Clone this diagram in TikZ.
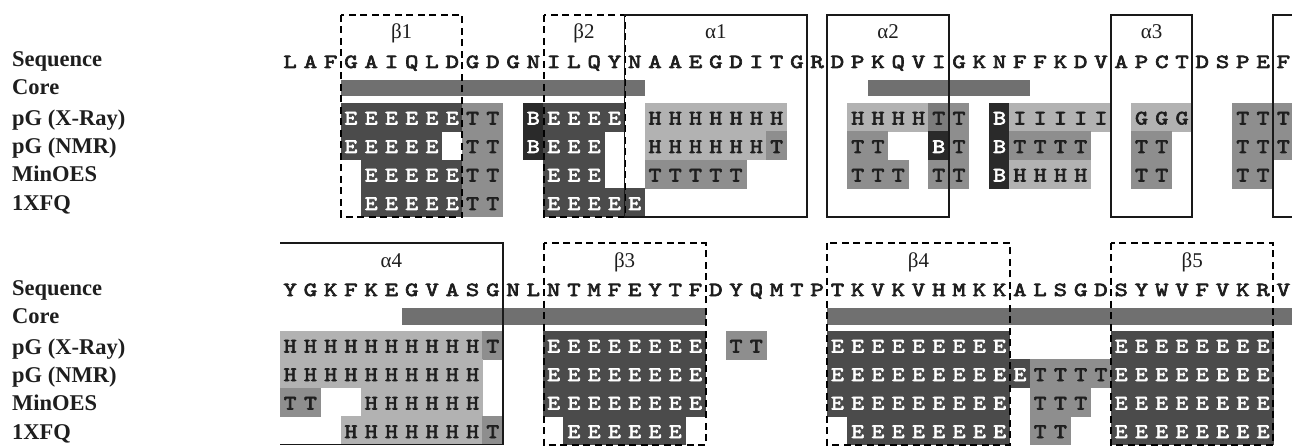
\documentclass[tikz,border=0pt]{standalone}
\usepackage{fontspec}
\newfontfamily\lblfont{Liberation Serif}
\newfontfamily\seqfont{lmmono10-regular.otf}[FakeBold=3.2,FakeStretch=1.28]
\newfontfamily\cellfont{lmmono10-regular.otf}[FakeBold=3,FakeStretch=1.2]
\definecolor{cE}{HTML}{4B4B4B}
\definecolor{cH}{HTML}{B2B2B2}
\definecolor{cT}{HTML}{8E8E8E}
\definecolor{cTd}{HTML}{7C7C7C}
\definecolor{cB}{HTML}{2A2A2A}
\definecolor{cCore}{HTML}{707070}
\definecolor{cTxt}{HTML}{1E1E1E}
% block, row, start column, letters, fill colour, text colour
\newcommand\cellrun[6]{%
  \foreach \ch [count=\k from #3] in {#4} {
    \pgfmathsetmacro\xl{280+20.27*\k}
    \pgfmathsetmacro\yt{103+28.5*(#2-1)+228*#1}
    \fill[#5] (\xl-0.3,\yt-0.3) rectangle (\xl+20.57,\yt+28.8);
    \node[cell,text=#6] (c#1-#2-\k) at (\xl+10.135,\yt+21.5) {\ch};
  }}
\begin{document}
\begin{tikzpicture}[x=1pt,y=-1pt,
  seq/.style={font=\seqfont\fontsize{20}{20}\selectfont,text=cTxt,inner sep=0pt,anchor=base},
  cell/.style={font=\cellfont\fontsize{20.5}{20.5}\selectfont,inner sep=0pt,anchor=base},
  rowlbl/.style={font=\lblfont\bfseries\fontsize{22.5}{22.5}\selectfont,text=cTxt,inner sep=0pt,anchor=base west},
  sslbl/.style={font=\lblfont\fontsize{21}{21}\selectfont,text=cTxt,inner sep=0pt,anchor=base},
  betabox/.style={draw=black,line width=2pt,dash pattern=on 7pt off 4.5pt},
  alphabox/.style={draw=black!90,line width=1.8pt},
  corebar/.style={fill=cCore}]
\useasboundingbox (0,0) rectangle (1292,446);
\fill[white] (0,0) rectangle (1292,446);
\clip (0,0) rectangle (1292,446);

% ---------- row labels ----------
\foreach \b in {0,1} {
  \node[rowlbl] (seq\b) at (12,67+228*\b) {Sequence};
  \node[rowlbl] (core\b) at (12,95+228*\b) {Core};
  \node[rowlbl] (xray\b) at (12,126+228*\b) {pG (X-Ray)};
  \node[rowlbl] (nmr\b) at (12,154+228*\b) {pG (NMR)};
  \node[rowlbl] (mino\b) at (12,182+228*\b) {MinOES};
  \node[rowlbl] (xfq\b) at (12,211+228*\b) {1XFQ};
}

% ---------- core bars ----------
\fill[corebar] ({280+20.27*3},80) rectangle ({280+20.27*18},96.5);
\fill[corebar] ({280+20.27*29},80) rectangle ({280+20.27*37},96.5);
\fill[corebar] ({280+20.27*6},308) rectangle ({280+20.27*21},324.5);
\fill[corebar] ({280+20.27*27},308) rectangle (1300,324.5);

% ---------- top block cells ----------
\cellrun{0}{1}{3}{E,E,E,E,E,E}{cE}{white}
\cellrun{0}{1}{9}{T,T}{cT}{cTxt}
\cellrun{0}{1}{12}{B}{cB}{white}
\cellrun{0}{1}{13}{E,E,E,E}{cE}{white}
\cellrun{0}{1}{18}{H,H,H,H,H,H,H}{cH}{cTxt}
\cellrun{0}{1}{28}{H,H,H,H}{cH}{cTxt}
\cellrun{0}{1}{32}{T}{cTd}{cTxt}
\cellrun{0}{1}{33}{T}{cT}{cTxt}
\cellrun{0}{1}{35}{B}{cB}{white}
\cellrun{0}{1}{36}{I,I,I,I,I}{cH}{cTxt}
\cellrun{0}{1}{42}{G,G,G}{cH}{cTxt}
\cellrun{0}{1}{47}{T,T,T}{cT}{cTxt}

\cellrun{0}{2}{3}{E,E,E,E,E}{cE}{white}
\cellrun{0}{2}{9}{T,T}{cT}{cTxt}
\cellrun{0}{2}{12}{B}{cB}{white}
\cellrun{0}{2}{13}{E,E,E}{cE}{white}
\cellrun{0}{2}{18}{H,H,H,H,H,H}{cH}{cTxt}
\cellrun{0}{2}{24}{T}{cT}{cTxt}
\cellrun{0}{2}{28}{T,T}{cT}{cTxt}
\cellrun{0}{2}{32}{B}{cB}{white}
\cellrun{0}{2}{33}{T}{cT}{cTxt}
\cellrun{0}{2}{35}{B}{cB}{white}
\cellrun{0}{2}{36}{T,T,T,T}{cT}{cTxt}
\cellrun{0}{2}{42}{T,T}{cT}{cTxt}
\cellrun{0}{2}{47}{T,T,T}{cT}{cTxt}

\cellrun{0}{3}{4}{E,E,E,E,E}{cE}{white}
\cellrun{0}{3}{9}{T,T}{cT}{cTxt}
\cellrun{0}{3}{13}{E,E,E}{cE}{white}
\cellrun{0}{3}{18}{T,T,T,T,T}{cT}{cTxt}
\cellrun{0}{3}{28}{T,T,T}{cT}{cTxt}
\cellrun{0}{3}{32}{T,T}{cT}{cTxt}
\cellrun{0}{3}{35}{B}{cB}{white}
\cellrun{0}{3}{36}{H,H,H,H}{cH}{cTxt}
\cellrun{0}{3}{42}{T,T}{cT}{cTxt}
\cellrun{0}{3}{47}{T,T}{cT}{cTxt}

\cellrun{0}{4}{4}{E,E,E,E,E}{cE}{white}
\cellrun{0}{4}{9}{T,T}{cT}{cTxt}
\cellrun{0}{4}{13}{E,E,E,E,E}{cE}{white}

% ---------- bottom block cells ----------
\cellrun{1}{1}{0}{H,H,H,H,H,H,H,H,H,H}{cH}{cTxt}
\cellrun{1}{1}{10}{T}{cT}{cTxt}
\cellrun{1}{1}{13}{E,E,E,E,E,E,E,E}{cE}{white}
\cellrun{1}{1}{22}{T,T}{cT}{cTxt}
\cellrun{1}{1}{27}{E,E,E,E,E,E,E,E,E}{cE}{white}
\cellrun{1}{1}{41}{E,E,E,E,E,E,E,E}{cE}{white}

\cellrun{1}{2}{0}{H,H,H,H,H,H,H,H,H,H}{cH}{cTxt}
\cellrun{1}{2}{13}{E,E,E,E,E,E,E,E}{cE}{white}
\cellrun{1}{2}{27}{E,E,E,E,E,E,E,E,E,E}{cE}{white}
\cellrun{1}{2}{37}{T,T,T,T}{cT}{cTxt}
\cellrun{1}{2}{41}{E,E,E,E,E,E,E,E}{cE}{white}

\cellrun{1}{3}{0}{T,T}{cT}{cTxt}
\cellrun{1}{3}{4}{H,H,H,H,H,H}{cH}{cTxt}
\cellrun{1}{3}{13}{E,E,E,E,E,E,E,E}{cE}{white}
\cellrun{1}{3}{27}{E,E,E,E,E,E,E,E,E}{cE}{white}
\cellrun{1}{3}{37}{T,T,T}{cT}{cTxt}
\cellrun{1}{3}{41}{E,E,E,E,E,E,E,E}{cE}{white}

\cellrun{1}{4}{3}{H,H,H,H,H,H,H}{cH}{cTxt}
\cellrun{1}{4}{10}{T}{cT}{cTxt}
\cellrun{1}{4}{14}{E,E,E,E,E,E}{cE}{white}
\cellrun{1}{4}{28}{E,E,E,E,E,E,E,E}{cE}{white}
\cellrun{1}{4}{37}{T,T}{cT}{cTxt}
\cellrun{1}{4}{41}{E,E,E,E,E,E,E,E}{cE}{white}

% ---------- sequences ----------
\foreach \ch [count=\i from 0] in {L,A,F,G,A,I,Q,L,D,G,D,G,N,I,L,Q,Y,N,A,A,E,G,D,I,T,G,R,D,P,K,Q,V,I,G,K,N,F,F,K,D,V,A,P,C,T,D,S,P,E,F}
  \node[seq] (sa\i) at ({290.135+20.27*\i},68) {\ch};
\foreach \ch [count=\i from 0] in {Y,G,K,F,K,E,G,V,A,S,G,N,L,N,T,M,F,E,Y,T,F,D,Y,Q,M,T,P,T,K,V,K,V,H,M,K,K,A,L,S,G,D,S,Y,W,V,F,V,K,R,V}
  \node[seq] (sb\i) at ({290.135+20.27*\i},296) {\ch};

% ---------- secondary-structure boxes ----------
\draw[betabox] ({280+20.27*3},15) rectangle ({280+20.27*9},217);
\draw[betabox] ({280+20.27*13},15) rectangle ({280+20.27*17},217);
\draw[alphabox] ({280+20.27*17},15) rectangle ({280+20.27*26},217);
\draw[alphabox] ({280+20.27*27},15) rectangle ({280+20.27*33},217);
\draw[alphabox] ({280+20.27*41},15) rectangle ({280+20.27*45},217);
\draw[alphabox] (1300,15) -- ({280+20.27*49},15) -- ({280+20.27*49},217) -- (1300,217);

\draw[alphabox] (280,243) -- ({280+20.27*11},243) -- ({280+20.27*11},444.5) -- (280,444.5);
\draw[betabox] ({280+20.27*13},243) rectangle ({280+20.27*21},445);
\draw[betabox] ({280+20.27*27},243) rectangle ({280+20.27*36},445);
\draw[betabox] ({280+20.27*41},243) rectangle ({280+20.27*49},445);

\node[sslbl] (lb1) at ({280+20.27*6},39) {β1};
\node[sslbl] (lb2) at ({280+20.27*15},39) {β2};
\node[sslbl] (la1) at ({280+20.27*21.5},39) {α1};
\node[sslbl] (la2) at ({280+20.27*30},39) {α2};
\node[sslbl] (la3) at ({280+20.27*43},39) {α3};
\node[sslbl] (la4) at ({280+20.27*5.5},267) {α4};
\node[sslbl] (lb3) at ({280+20.27*17},267) {β3};
\node[sslbl] (lb4) at ({280+20.27*31.5},267) {β4};
\node[sslbl] (lb5) at ({280+20.27*45},267) {β5};
\end{tikzpicture}
\end{document}
